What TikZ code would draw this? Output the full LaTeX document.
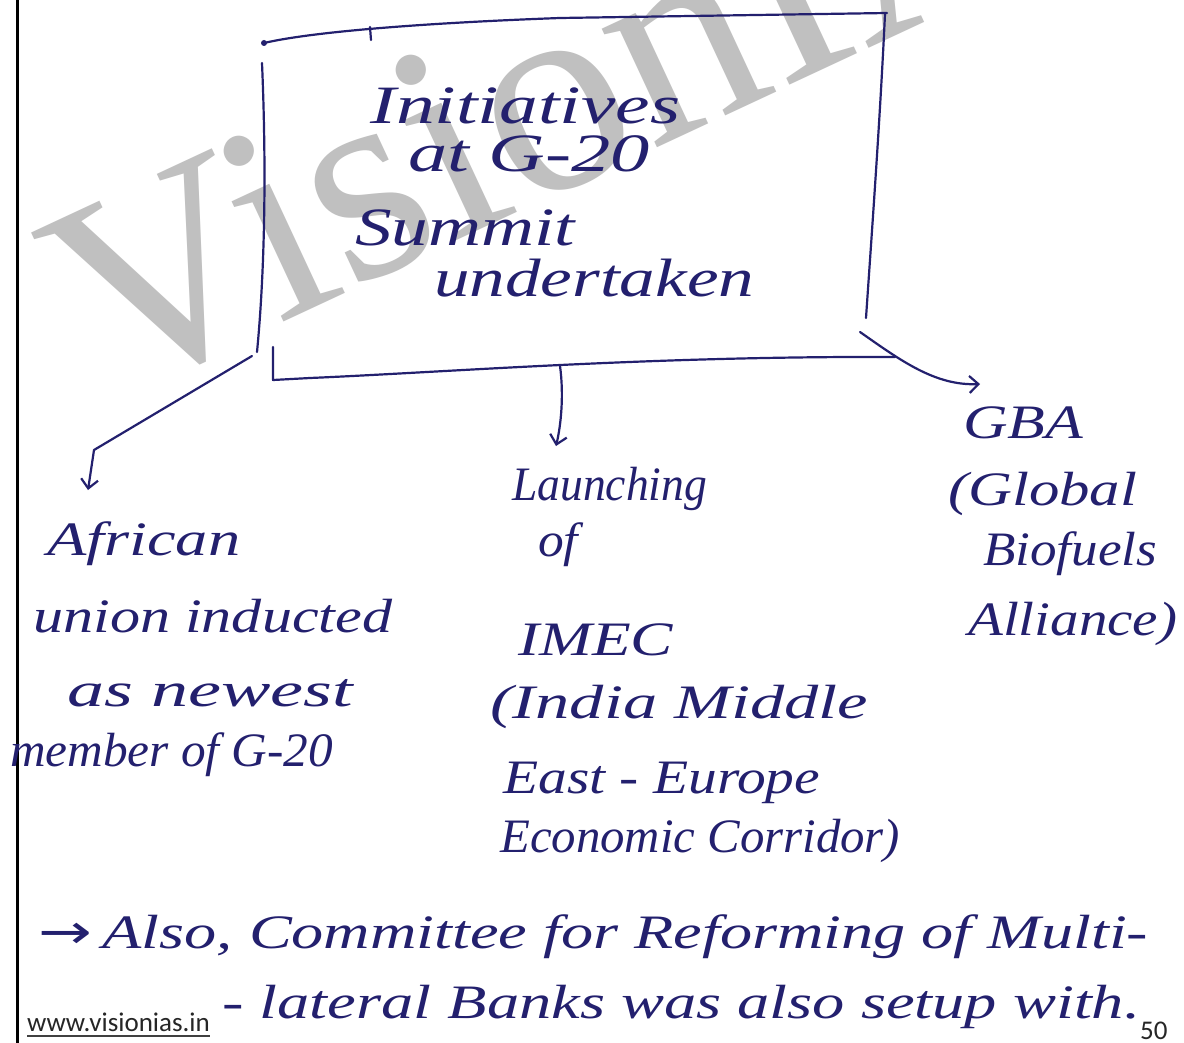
\documentclass[tikz,border=0pt]{standalone}
\usepackage{fontspec}
\usepackage{graphicx}
\setmainfont{Liberation Serif}
\newfontfamily\webfont{Carlito}
\newfontfamily\symfont{DejaVu Sans}
\usetikzlibrary{arrows.meta}
\definecolor{ink}{RGB}{35,32,110}
\definecolor{wmgray}{RGB}{192,192,192}
\newcommand\fitw[2]{\resizebox{#1pt}{\height}{#2}}
\begin{document}
\begin{tikzpicture}[x=1pt,y=-1pt,
  hw/.style={inner sep=0pt, anchor=base west, text=ink, font=\fontsize{48}{52}\selectfont\itshape},
  hwbig/.style={hw, font=\fontsize{54}{58}\selectfont\itshape},
  inkline/.style={draw=ink, line width=2.2pt, line cap=round, line join=round},
  inkarrow/.style={inkline, -{Straight Barb[length=9pt,width=17pt,line width=2.2pt]}},
  web/.style={inner sep=0pt, anchor=base west, text=black!85, font=\webfont\fontsize{27}{30}\selectfont}]
\useasboundingbox (0,0) rectangle (1184,1043);
\fill[white] (0,0) rectangle (1184,1043);
% watermark
\begin{scope}
\clip (0,0) rectangle (1184,1043);
\node[anchor=base west, inner sep=0pt, rotate=25, text=wmgray, font=\fontsize{285}{285}\selectfont] (wmk) at (107,404) {VisionIAS};
\end{scope}
% page margin line
\draw[line width=3pt, black] (17,0) -- (17,1043);
% hand-drawn box
\fill[ink] (264,43) circle (3pt);
\draw[inkline] (264,43) .. controls (320,30) and (450,22) .. (560,18) -- (887,13);
\draw[inkline] (370,27) -- (371,40);
\draw[inkline] (885,14) .. controls (880,120) and (872,230) .. (866,318);
\draw[inkline] (262,63) .. controls (267,180) and (264,280) .. (257,352);
\draw[inkline] (273,347) -- (273,380) -- (310,378) .. controls (450,372) and (650,356) .. (895,357);
% box text
\node[hwbig] (t1) at (370,124) {\fitw{310}{Initiatives}};
\node[hwbig] (t2) at (408,172) {\fitw{242}{at G-20}};
\node[hwbig] (t3) at (355,246) {\fitw{220}{Summit}};
\node[hwbig] (t4) at (434,296) {\fitw{320}{undertaken}};
% connectors
\coordinate (bl) at (252,356);
\coordinate (bk) at (94,450);
\coordinate (ae) at (88,490);
\draw[inkarrow] (bl) -- (bk) -- (ae);
\coordinate (bm) at (560,366);
\coordinate (me) at (556,446);
\draw[inkarrow] (bm) .. controls (564,395) and (561,425) .. (me);
\coordinate (br) at (860,332);
\coordinate (ge) at (980,384);
\draw[inkarrow] (br) .. controls (900,360) and (935,386) .. (ge);
% left branch
\node[hw] (a1) at (47,555) {\fitw{193}{African}};
\node[hw] (a2) at (33,632) {\fitw{359}{union inducted}};
\node[hw] (a3) at (67,706) {\fitw{286}{as newest}};
\node[hw] (a4) at (10,766) {\fitw{323}{member of G-20}};
% middle branch
\node[hw] (m1) at (512,500) {\fitw{195}{Launching}};
\node[hw] (m2) at (538,556) {\fitw{40}{of}};
\node[hw] (m3) at (518,655) {\fitw{155}{IMEC}};
\node[hw] (m4) at (490,718) {\fitw{378}{(India Middle}};
\node[hw] (m5) at (503,793) {\fitw{317}{East - Europe}};
\node[hw] (m6) at (500,852) {\fitw{400}{Economic Corridor)}};
% right branch
\node[hw] (g1) at (963,438) {\fitw{120}{GBA}};
\node[hw] (g2) at (948,505) {\fitw{189}{(Global}};
\node[hw] (g3) at (983,565) {\fitw{174}{Biofuels}};
\node[hw] (g4) at (968,635) {\fitw{209}{Alliance)}};
% bottom note
\node[hw] (b1) at (38,948) {\fitw{1110}{{\symfont →}\,Also, Committee for Reforming of Multi-}};
\node[hw] (b2) at (222,1018) {\fitw{918}{- lateral Banks was also setup with.}};
% footer
\node[web] (www) at (27,1031) {www.visionias.in};
\draw[black!75, line width=1.4pt] ([yshift=-5pt]www.base west) -- ([yshift=-5pt]www.base east);
\node[web] (pg) at (1140,1039) {50};
\end{tikzpicture}
\end{document}
